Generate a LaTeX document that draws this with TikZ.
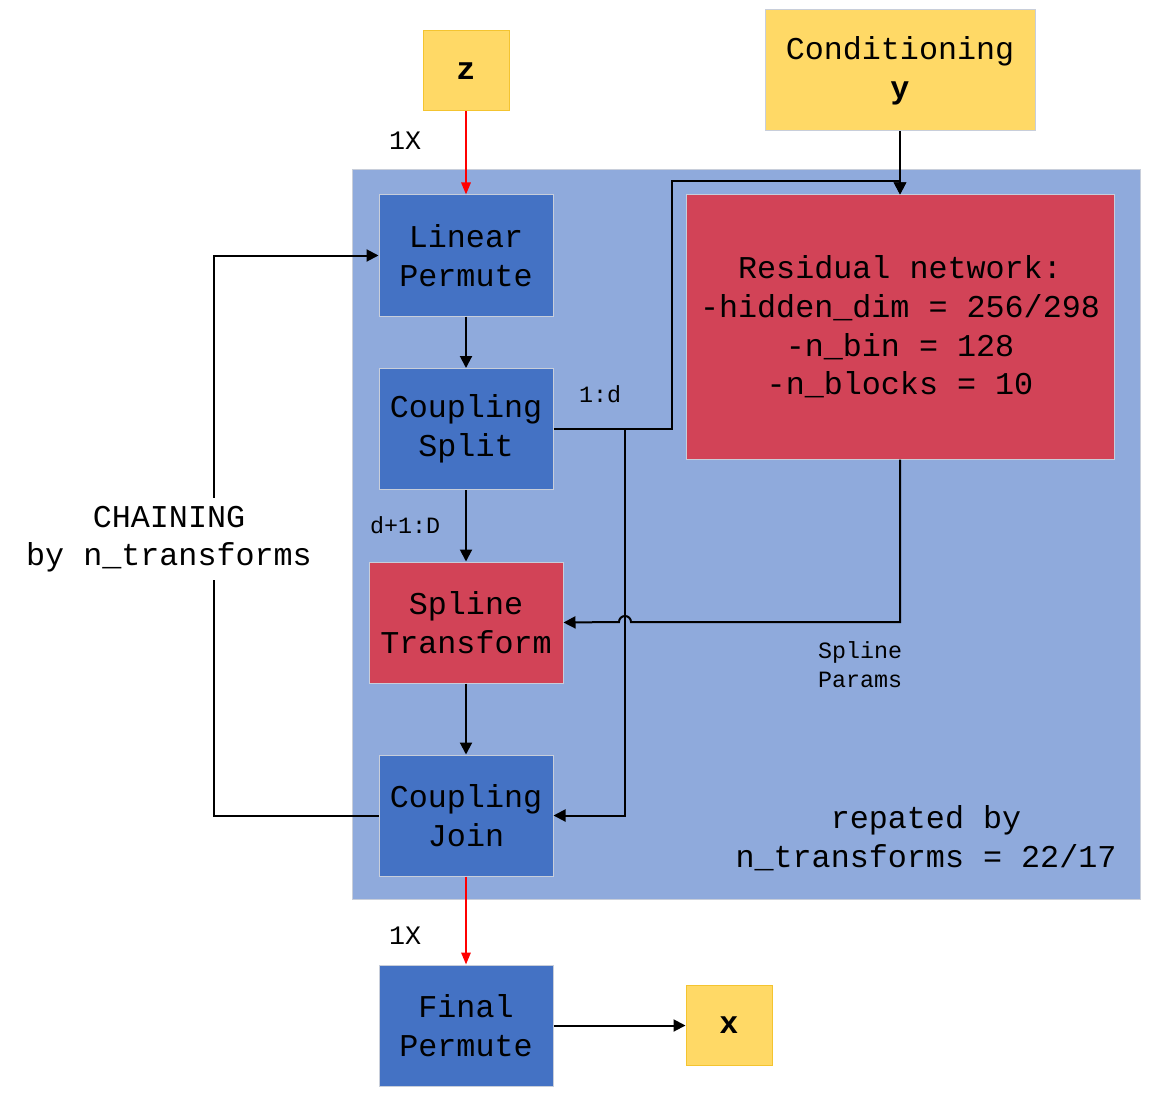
\documentclass[tikz,border=0pt]{standalone}
\usepackage{fontspec}
\setmainfont{Liberation Mono}
\usetikzlibrary{arrows.meta}
\definecolor{bgblue}{HTML}{8FAADC}
\definecolor{dblue}{HTML}{4472C4}
\definecolor{rred}{HTML}{D24357}
\definecolor{yel}{HTML}{FFD966}
\definecolor{yelb}{HTML}{F4C430}
\definecolor{edge}{HTML}{C8CEDA}
\begin{document}
\begin{tikzpicture}[x=0.75pt,y=-0.75pt,
  mainf/.style={font=\fontsize{23.8}{28.9}\selectfont},
  box/.style={draw=edge,line width=0.75pt,inner sep=0pt,align=center,mainf},
  bluebox/.style={box,fill=dblue,minimum width=130.5pt,minimum height=90.75pt},
  redbox/.style={box,fill=rred},
  yelbox/.style={box,fill=yel,draw=yelb,minimum width=64.5pt,minimum height=60pt},
  arr/.style={line width=1.5pt,-{Triangle[length=9pt,width=9pt]}},
  redarr/.style={arr,draw=red,-{Triangle[length=9pt,width=7pt,fill=red]}},
  lbl/.style={inner sep=0pt,align=center},
  smallf/.style={font=\fontsize{17.5}{21.75}\selectfont},
]
\useasboundingbox (0,0) rectangle (1151,1098);
\node[draw=edge,line width=0.75pt,fill=bgblue,minimum width=591pt,minimum height=546.75pt,inner sep=0pt] (bg) at (746,534.5) {};

\node[yelbox] (z) at (466,71) {\textbf{z}};
\node[box,fill=yel,minimum width=202.5pt,minimum height=90.75pt] (cond) at (900,70.5) {\raisebox{-6pt}{\shortstack{Conditioning\\[9pt]\textbf{y}}}};
\node[bluebox] (lin) at (466,255.5) {Linear\\Permute};
\node[bluebox] (split) at (466,429) {Coupling\\Split};
\node[redbox,minimum width=145.5pt,minimum height=90.75pt] (spline) at (466,622.5) {Spline\\Transform};
\node[bluebox] (join) at (466,815.5) {Coupling\\Join};
\node[bluebox] (final) at (466,1025.5) {Final\\Permute};
\node[yelbox] (x) at (729,1025.5) {\textbf{x}};
\node[redbox,minimum width=321pt,minimum height=198pt] (res) at (900,327) {Residual network:\\-hidden\_dim = 256/298\\-n\_bin = 128\\-n\_blocks = 10};

\coordinate (c1) at (672,181);
\coordinate (br) at (625,429);
\coordinate (hop) at (631,622);
\coordinate (l1) at (214,815.5);
\coordinate (l2) at (214,255.5);

\draw[redarr] (z) -- (lin);
\draw[arr] (lin) -- (split);
\draw[arr] (split) -- (spline);
\draw[arr] (spline) -- (join);
\draw[redarr] (join) -- (final);
\draw[arr] (final) -- (x);
\draw[arr] (cond) -- (res);
\draw[arr] (split.east) -| (c1) -| (res.north);
\draw[arr] (br) |- (join.east);
\draw[arr] (res.south) |- (hop) arc[start angle=0,end angle=180,radius=4.5pt] -- (spline.east);
\draw[arr] (join.west) -- (l1) -- (l2) -- (lin.west);

\node[lbl,fill=white,mainf,inner sep=6pt] (chain) at (169,539) {CHAINING\\by n\_transforms};
\node[lbl,font=\fontsize{20}{24}\selectfont] (one1) at (405,141) {1X};
\node[lbl,font=\fontsize{20}{24}\selectfont] (one2) at (405,936) {1X};
\node[lbl,smallf] (ld) at (600,394) {1:d};
\node[lbl,smallf] (ldd) at (405,525) {d+1:D};
\node[lbl,smallf,align=left] (sp) at (860,665) {Spline\\Params};
\node[lbl,mainf] (rep) at (926,838) {repated by\\n\_transforms = 22/17};
\end{tikzpicture}
\end{document}
